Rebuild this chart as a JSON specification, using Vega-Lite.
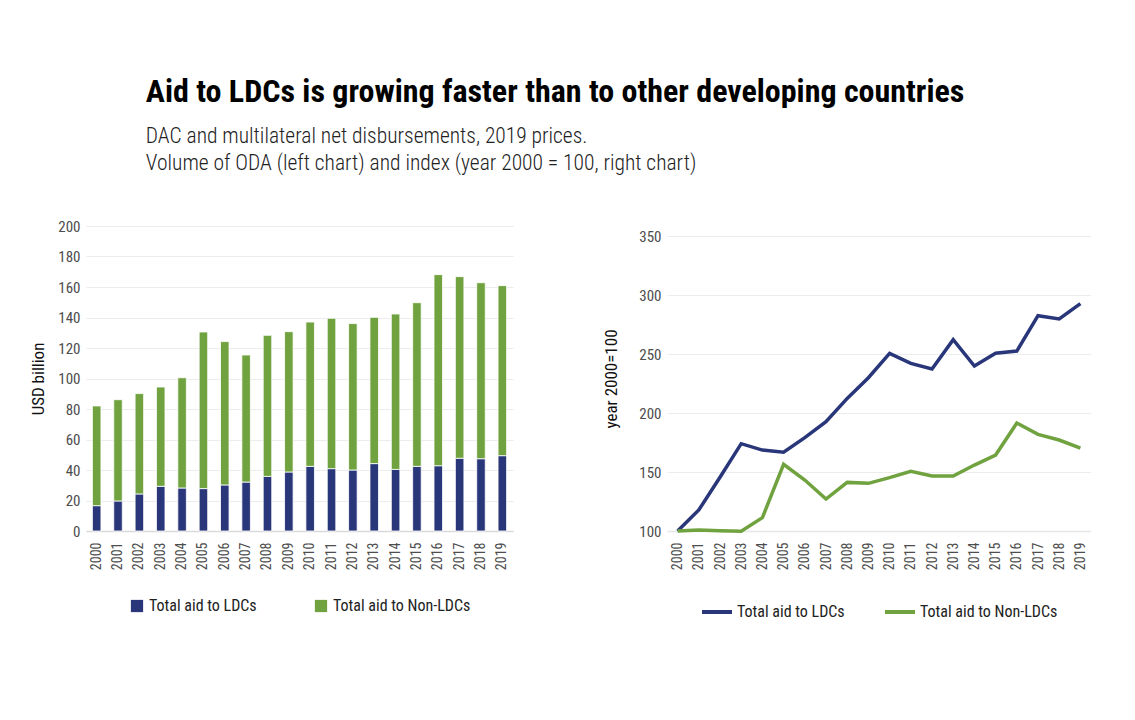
{
  "$schema": "https://vega.github.io/schema/vega-lite/v6.json",
  "background": "white",
  "padding": {"left": 29, "top": 75, "right": 0, "bottom": 0},
  "title": {
    "text": "Aid to LDCs is growing faster than to other developing countries",
    "subtitle": ["DAC and multilateral net disbursements, 2019 prices.", "Volume of ODA (left chart) and index (year 2000 = 100, right chart)"],
    "anchor": "start",
    "frame": "bounds",
    "dx": 116,
    "font": "Roboto Condensed, Liberation Sans Narrow, sans-serif",
    "fontSize": 32,
    "fontWeight": "bold",
    "color": "#000000",
    "subtitleFont": "Roboto Condensed, Liberation Sans Narrow, sans-serif",
    "subtitleFontSize": 21.5,
    "subtitleFontWeight": 300,
    "subtitleColor": "#222222",
    "subtitlePadding": 17,
    "subtitleLineHeight": 27,
    "offset": 44
  },
  "datasets": {
    "volume": [
      {"year": "2000", "series": "Total aid to LDCs", "value": 16.6},
      {"year": "2001", "series": "Total aid to LDCs", "value": 19.7},
      {"year": "2002", "series": "Total aid to LDCs", "value": 24.3},
      {"year": "2003", "series": "Total aid to LDCs", "value": 29.3},
      {"year": "2004", "series": "Total aid to LDCs", "value": 28.2},
      {"year": "2005", "series": "Total aid to LDCs", "value": 27.8},
      {"year": "2006", "series": "Total aid to LDCs", "value": 30.2},
      {"year": "2007", "series": "Total aid to LDCs", "value": 32.1},
      {"year": "2008", "series": "Total aid to LDCs", "value": 35.8},
      {"year": "2009", "series": "Total aid to LDCs", "value": 38.7},
      {"year": "2010", "series": "Total aid to LDCs", "value": 42.4},
      {"year": "2011", "series": "Total aid to LDCs", "value": 40.9},
      {"year": "2012", "series": "Total aid to LDCs", "value": 40.0},
      {"year": "2013", "series": "Total aid to LDCs", "value": 44.2},
      {"year": "2014", "series": "Total aid to LDCs", "value": 40.4},
      {"year": "2015", "series": "Total aid to LDCs", "value": 42.4},
      {"year": "2016", "series": "Total aid to LDCs", "value": 42.8},
      {"year": "2017", "series": "Total aid to LDCs", "value": 47.7},
      {"year": "2018", "series": "Total aid to LDCs", "value": 47.4},
      {"year": "2019", "series": "Total aid to LDCs", "value": 49.4},
      {"year": "2000", "series": "Total aid to Non-LDCs", "value": 65.4},
      {"year": "2001", "series": "Total aid to Non-LDCs", "value": 66.4},
      {"year": "2002", "series": "Total aid to Non-LDCs", "value": 65.8},
      {"year": "2003", "series": "Total aid to Non-LDCs", "value": 65.1},
      {"year": "2004", "series": "Total aid to Non-LDCs", "value": 72.3},
      {"year": "2005", "series": "Total aid to Non-LDCs", "value": 102.7},
      {"year": "2006", "series": "Total aid to Non-LDCs", "value": 94.0},
      {"year": "2007", "series": "Total aid to Non-LDCs", "value": 83.3},
      {"year": "2008", "series": "Total aid to Non-LDCs", "value": 92.5},
      {"year": "2009", "series": "Total aid to Non-LDCs", "value": 92.0},
      {"year": "2010", "series": "Total aid to Non-LDCs", "value": 94.6},
      {"year": "2011", "series": "Total aid to Non-LDCs", "value": 98.6},
      {"year": "2012", "series": "Total aid to Non-LDCs", "value": 96.0},
      {"year": "2013", "series": "Total aid to Non-LDCs", "value": 95.9},
      {"year": "2014", "series": "Total aid to Non-LDCs", "value": 101.9},
      {"year": "2015", "series": "Total aid to Non-LDCs", "value": 107.3},
      {"year": "2016", "series": "Total aid to Non-LDCs", "value": 125.3},
      {"year": "2017", "series": "Total aid to Non-LDCs", "value": 119.1},
      {"year": "2018", "series": "Total aid to Non-LDCs", "value": 115.4},
      {"year": "2019", "series": "Total aid to Non-LDCs", "value": 111.5}
    ],
    "index": [
      {"year": "2000", "series": "Total aid to LDCs", "index": 100.0},
      {"year": "2001", "series": "Total aid to LDCs", "index": 117.8},
      {"year": "2002", "series": "Total aid to LDCs", "index": 145.5},
      {"year": "2003", "series": "Total aid to LDCs", "index": 174.0},
      {"year": "2004", "series": "Total aid to LDCs", "index": 168.6},
      {"year": "2005", "series": "Total aid to LDCs", "index": 166.7},
      {"year": "2006", "series": "Total aid to LDCs", "index": 179.1},
      {"year": "2007", "series": "Total aid to LDCs", "index": 192.7},
      {"year": "2008", "series": "Total aid to LDCs", "index": 212.4},
      {"year": "2009", "series": "Total aid to LDCs", "index": 229.9},
      {"year": "2010", "series": "Total aid to LDCs", "index": 250.6},
      {"year": "2011", "series": "Total aid to LDCs", "index": 242.1},
      {"year": "2012", "series": "Total aid to LDCs", "index": 237.3},
      {"year": "2013", "series": "Total aid to LDCs", "index": 262.1},
      {"year": "2014", "series": "Total aid to LDCs", "index": 239.8},
      {"year": "2015", "series": "Total aid to LDCs", "index": 250.6},
      {"year": "2016", "series": "Total aid to LDCs", "index": 252.5},
      {"year": "2017", "series": "Total aid to LDCs", "index": 282.5},
      {"year": "2018", "series": "Total aid to LDCs", "index": 279.7},
      {"year": "2019", "series": "Total aid to LDCs", "index": 292.7},
      {"year": "2000", "series": "Total aid to Non-LDCs", "index": 100.0},
      {"year": "2001", "series": "Total aid to Non-LDCs", "index": 100.8},
      {"year": "2002", "series": "Total aid to Non-LDCs", "index": 100.3},
      {"year": "2003", "series": "Total aid to Non-LDCs", "index": 99.8},
      {"year": "2004", "series": "Total aid to Non-LDCs", "index": 111.3},
      {"year": "2005", "series": "Total aid to Non-LDCs", "index": 156.5},
      {"year": "2006", "series": "Total aid to Non-LDCs", "index": 143.2},
      {"year": "2007", "series": "Total aid to Non-LDCs", "index": 127.1},
      {"year": "2008", "series": "Total aid to Non-LDCs", "index": 141.2},
      {"year": "2009", "series": "Total aid to Non-LDCs", "index": 140.4},
      {"year": "2010", "series": "Total aid to Non-LDCs", "index": 145.2},
      {"year": "2011", "series": "Total aid to Non-LDCs", "index": 150.6},
      {"year": "2012", "series": "Total aid to Non-LDCs", "index": 146.6},
      {"year": "2013", "series": "Total aid to Non-LDCs", "index": 146.6},
      {"year": "2014", "series": "Total aid to Non-LDCs", "index": 155.9},
      {"year": "2015", "series": "Total aid to Non-LDCs", "index": 164.4},
      {"year": "2016", "series": "Total aid to Non-LDCs", "index": 191.5},
      {"year": "2017", "series": "Total aid to Non-LDCs", "index": 181.9},
      {"year": "2018", "series": "Total aid to Non-LDCs", "index": 177.1},
      {"year": "2019", "series": "Total aid to Non-LDCs", "index": 170.3}
    ]
  },
  "spacing": 89,
  "hconcat": [
    {
      "width": 427,
      "height": 305,
      "data": {"name": "volume"},
      "mark": {"type": "bar", "stroke": "white", "strokeWidth": 0.8},
      "encoding": {
        "x": {
          "field": "year", "type": "ordinal",
          "scale": {"paddingInner": 0.6, "paddingOuter": 0.3},
          "axis": {"title": null, "labelAngle": -90, "labelPadding": 11, "ticks": false, "domainColor": "#d9d9d9", "domainWidth": 1.5}
        },
        "y": {
          "field": "value", "type": "quantitative", "stack": "zero",
          "scale": {"domain": [0, 200]},
          "axis": {"title": "USD billion", "values": [0, 20, 40, 60, 80, 100, 120, 140, 160, 180, 200], "titlePadding": 10, "labelPadding": 6}
        },
        "color": {
          "field": "series", "type": "nominal",
          "scale": {"domain": ["Total aid to LDCs", "Total aid to Non-LDCs"], "range": ["#29377a", "#70a23f"]},
          "legend": {"title": null, "orient": "bottom", "direction": "horizontal", "symbolType": "square", "symbolSize": 150, "symbolStrokeWidth": 0, "columnPadding": 56, "offset": 28}
        },
        "order": {"field": "series", "sort": "ascending"}
      }
    },
    {
      "width": 424,
      "height": 305,
      "data": {"name": "index"},
      "mark": {"type": "line", "strokeWidth": 3.5},
      "encoding": {
        "x": {
          "field": "year", "type": "ordinal",
          "scale": {"type": "point", "padding": 0.5},
          "axis": {"title": null, "labelAngle": -90, "labelPadding": 11, "ticks": false, "domainColor": "#e6e6e6", "domainWidth": 1.5}
        },
        "y": {
          "field": "index", "type": "quantitative",
          "scale": {"domain": [100, 358.5], "nice": false},
          "axis": {"title": "year 2000=100", "values": [100, 150, 200, 250, 300, 350], "titlePadding": 18, "labelPadding": 6}
        },
        "color": {
          "field": "series", "type": "nominal",
          "scale": {"domain": ["Total aid to LDCs", "Total aid to Non-LDCs"], "range": ["#29377a", "#70a23f"]},
          "legend": {"title": null, "orient": "bottom", "direction": "horizontal", "symbolType": "stroke", "symbolSize": 900, "symbolStrokeWidth": 4, "labelOffset": 3, "columnPadding": 32, "offset": 25}
        }
      }
    }
  ],
  "resolve": {"scale": {"color": "independent"}, "legend": {"color": "independent"}},
  "config": {
    "font": "Roboto Condensed, Liberation Sans Narrow, sans-serif",
    "view": {"stroke": null},
    "axis": {
      "labelFont": "Roboto Condensed, Liberation Sans Narrow, sans-serif",
      "labelFontSize": 15,
      "labelColor": "#4d4d4d",
      "titleFont": "Roboto Condensed, Liberation Sans Narrow, sans-serif",
      "titleFontSize": 17,
      "titleFontWeight": "normal",
      "titleColor": "#111111",
      "gridColor": "#ececec",
      "gridWidth": 1.2
    },
    "axisY": {"domain": false, "ticks": false, "grid": true},
    "axisX": {"grid": false, "labelFontSize": 14},
    "legend": {
      "labelFont": "Roboto Condensed, Liberation Sans Narrow, sans-serif",
      "labelFontSize": 16,
      "labelColor": "#222222",
      "labelLimit": 300,
      "layout": {"bottom": {"anchor": "middle"}}
    }
  }
}
